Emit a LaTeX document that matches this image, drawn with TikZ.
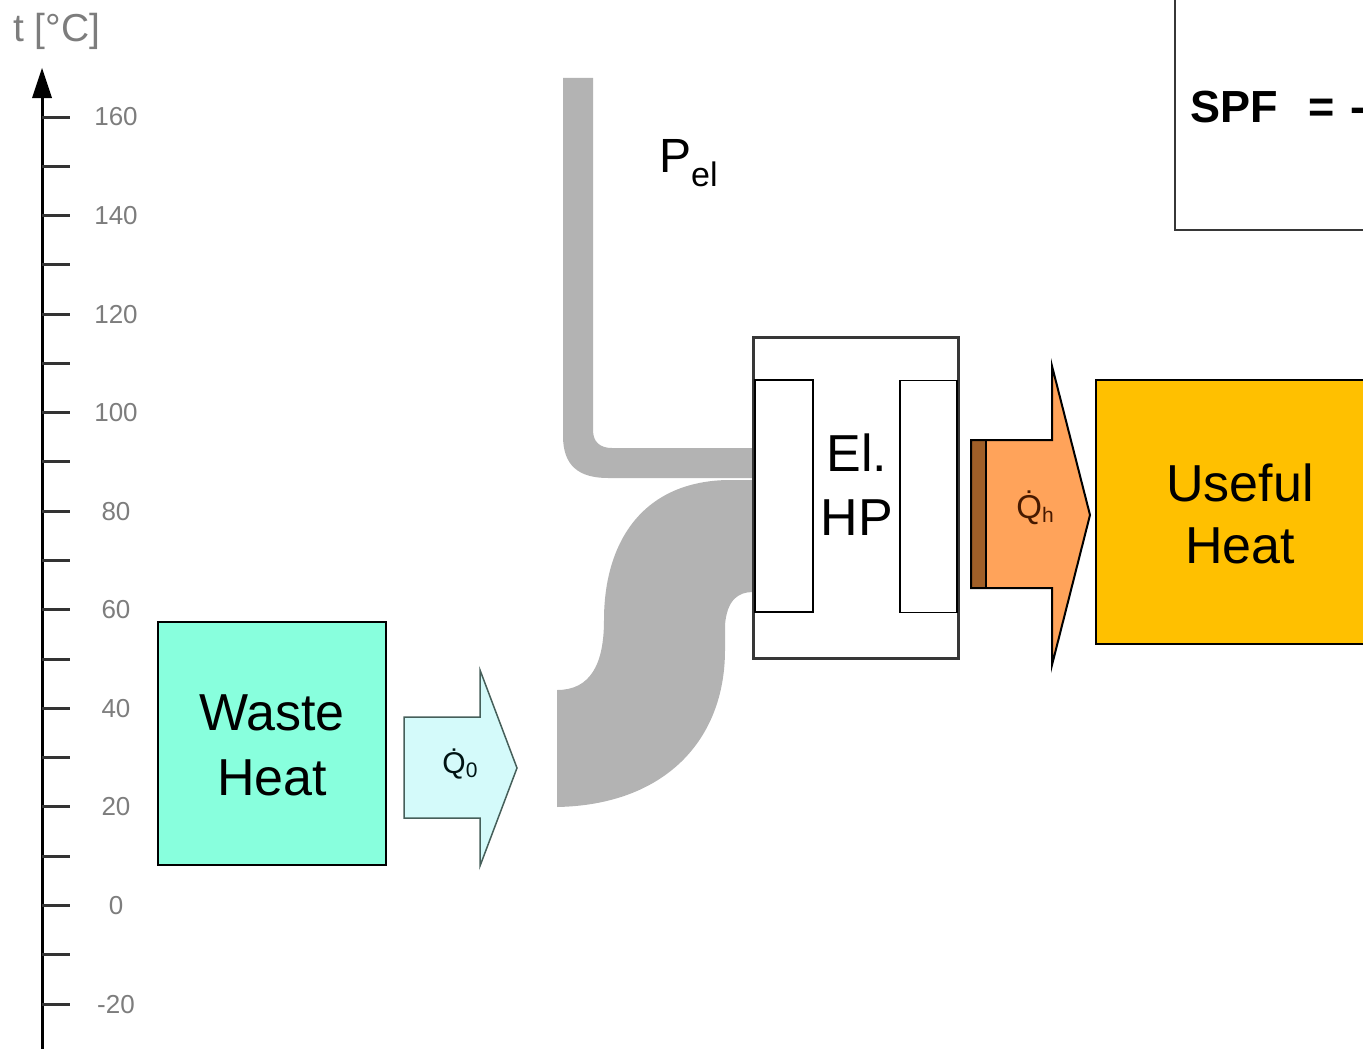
\documentclass[tikz,border=0pt]{standalone}
\usepackage{fontspec}
\usepackage{graphicx}
\setmainfont{Liberation Sans}
\definecolor{mint}{RGB}{136,255,221}
\definecolor{qzfill}{RGB}{212,250,250}
\definecolor{qzdraw}{RGB}{70,95,90}
\definecolor{qhfill}{RGB}{255,163,90}
\definecolor{qhstrip}{RGB}{160,95,40}
\definecolor{qhtext}{RGB}{70,25,0}
\definecolor{useful}{RGB}{255,192,0}
\definecolor{pipegray}{RGB}{179,179,179}
\definecolor{axgray}{RGB}{125,125,125}
\definecolor{boxgray}{RGB}{55,55,55}
\begin{document}
\begin{tikzpicture}[x=1pt,y=-1pt,
  every node/.style={inner sep=0pt},
  big/.style={font=\fontsize{52}{62}\selectfont, anchor=base},
  tickln/.style={line width=3pt, draw=black!80},
  ticklbl/.style={font=\fontsize{26}{26}\selectfont, text=axgray},
  plainbox/.style={draw=black, line width=1.5pt},
]
\useasboundingbox (0,0) rectangle (1363,1049);
\clip (0,0) rectangle (1363,1049);

% temperature axis
\draw[line width=3pt] (42,1060) -- (42,95);
\fill (42,68) -- (52,98) -- (32,98) -- cycle;
\foreach \k in {0,...,18} \draw[tickln] (42,{117+\k*49.28}) -- (70,{117+\k*49.28});
\foreach \v [count=\k from 0] in {160,140,...,-20}
  \node[ticklbl] (lbl\k) at (116,{117+\k*98.56}) {\v};
\node[anchor=base west, font=\fontsize{39}{39}\selectfont, text=axgray] (tc) at (13,42) {t [°C]};

% electric power pipe
\fill[pipegray] (563,78) -- (563,436) .. controls (563,465) and (578,478) .. (608,478)
  -- (753,478) -- (753,448) -- (612,448) .. controls (600,448) and (593,442) .. (593,430)
  -- (593,78) -- cycle;
% heat flow S band
\fill[pipegray] (753,480) -- (727,480) .. controls (640,482) and (604,545) .. (604,620)
  .. controls (604,665) and (590,690) .. (557,690) -- (557,807)
  .. controls (665,805) and (725,740) .. (725,650) -- (725,625)
  .. controls (727,600) and (738,592) .. (753,592) -- cycle;

\node[anchor=base west, font=\fontsize{48}{48}\selectfont] (pel) at (659,172)
  {P\raisebox{-14pt}{\fontsize{34}{34}\selectfont el}};

% heat pump
\node[draw=boxgray, fill=white, line width=3pt, minimum width=205pt, minimum height=321pt] (hp) at (855.5,497.5) {};
\node[draw=black, line width=1.5pt, minimum width=58pt, minimum height=232pt] (evap) at (784,496) {};
\node[draw=black, line width=1.5pt, minimum width=57pt, minimum height=232pt] (cond) at (928.5,496.5) {};
\node[big] (hp1) at (857,471) {El.};
\node[big] (hp2) at (857,535) {HP};

% waste heat
\node[plainbox, fill=mint, minimum width=228pt, minimum height=243pt] (waste) at (272,743.5) {};
\node[big] (wh1) at (272,730) {Waste};
\node[big] (wh2) at (272,795) {Heat};

% Q0 arrow
\draw[draw=qzdraw, fill=qzfill, line width=1.5pt, line join=miter]
  (404,717) -- (480,717) -- (480,670) -- (517,768) -- (480,866) -- (480,818) -- (404,818) -- cycle;
\node[font=\fontsize{30}{30}\selectfont, text=black!85!teal] (q0) at (460,764) {\.{Q}\raisebox{-4pt}{\fontsize{21}{21}\selectfont 0}};

% Qh arrow
\fill[qhfill] (971,440) -- (1052,440) -- (1052,366) -- (1090,515) -- (1052,665) -- (1052,588) -- (971,588) -- cycle;
\fill[qhstrip] (971,440) rectangle (986,588);
\draw[line width=2pt] (986,440) -- (986,588);
\draw[line width=2pt, line join=miter]
  (971,440) -- (1052,440) -- (1052,366) -- (1090,515) -- (1052,665) -- (1052,588) -- (971,588) -- cycle;
\node[font=\fontsize{33}{33}\selectfont, text=qhtext] (qh) at (1035,508) {\.{Q}\raisebox{-4pt}{\fontsize{21}{21}\selectfont h}};

% useful heat
\node[plainbox, fill=useful, minimum width=304pt, minimum height=264pt] (useful) at (1248,512) {};
\node[big] (uh1) at (1240,501) {Useful};
\node[big] (uh2) at (1240,563) {Heat};

% SPF box
\node[draw=boxgray, line width=2pt, minimum width=225pt, minimum height=280pt] (spfbox) at (1287.5,90) {};
\node[anchor=base west, font=\fontsize{45}{45}\selectfont\bfseries] (spf) at (1190,122) {SPF\hskip 31pt =\hskip 15pt -};
\end{tikzpicture}
\end{document}
